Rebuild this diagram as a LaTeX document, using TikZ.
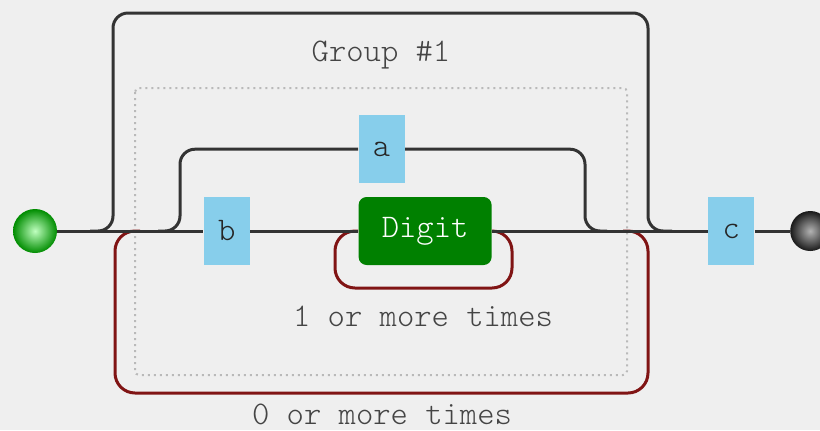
\documentclass[tikz,border=0pt]{standalone}
\usepackage{fontspec}
\usetikzlibrary{positioning}
\definecolor{railbg}{RGB}{239,239,239}
\definecolor{railline}{RGB}{51,51,51}
\definecolor{loopred}{RGB}{128,20,20}
\definecolor{litblue}{RGB}{135,206,235}
\definecolor{classgreen}{RGB}{0,128,0}
\definecolor{labelgray}{RGB}{68,68,68}

\begin{document}
\begin{tikzpicture}[x=0.5pt,y=-0.5pt,
  font=\ttfamily\fontseries{l}\fontsize{16.5}{19}\selectfont,
  rail/.style={draw=railline,line width=1.5pt,rounded corners=7.5pt},
  loop/.style={draw=loopred,line width=1.5pt,rounded corners=10pt},
  literal/.style={fill=litblue,text=black!85,minimum width=23pt,minimum height=34pt,inner sep=0pt},
  charclass/.style={fill=classgreen,text=white,rounded corners=4pt,minimum width=66.5pt,minimum height=34pt,inner sep=0pt},
  caption/.style={text=labelgray}]
\fill[railbg] (0,0) rectangle (820,430);
\useasboundingbox (0,0) rectangle (820,430);

\node [circle,minimum size=22pt,inner sep=0pt,inner color=green!25!white,outer color=green!55!black] (start) at (35,231) {};
\node [literal,right=73pt of start](b){b};
\node [charclass,right=54pt of b](digit){Digit};
\node [literal,above=6.5pt of digit.north west,anchor=south west](a){a};
\node [literal,right=108pt of digit](c){c};
\node [circle,minimum size=20pt,inner sep=0pt,inner color=gray!60,outer color=black!90,right=17.5pt of c](end){};

\coordinate (skipin) at (90,231);
\coordinate (skipout) at (672,231);
\coordinate (altin) at (158,231);
\coordinate (altout) at (607,231);

% dotted box of the group
\draw [gray!55,line width=1pt,dash pattern=on 1pt off 2pt,rounded corners=2pt] (135,88) rectangle (627,375);
\node [caption] (grouplabel) at (381,55) {Group \#1};

% loops
\draw [loop] (140,231) -- (115,231) -- (115,393) -- (648,393) -- (648,231) -- (623,231);
\draw [loop] (digit.west) -- (335,231) -- (335,288) -- (512,288) -- (512,231) -- (digit.east);
\node [caption] (onemore) at (423,316) {1 or more times};
\node [caption] (zeromore) at (382,414) {0 or more times};

% main line
\draw [rail] (start) -- (b);
\draw [rail] (b) -- (digit);
\draw [rail] (digit) -- (c);
\draw [rail] (c) -- (end);

% skip over the group
\draw [rail] (skipin) -- (113,231) -- (113,13) -- (648,13) -- (648,231) -- (skipout);
% alternative a
\draw [rail] (altin) -- (180,231) |- (a.west);
\draw [rail] (a.east) -| (585,231) -- (altout);
\end{tikzpicture}
\end{document}
